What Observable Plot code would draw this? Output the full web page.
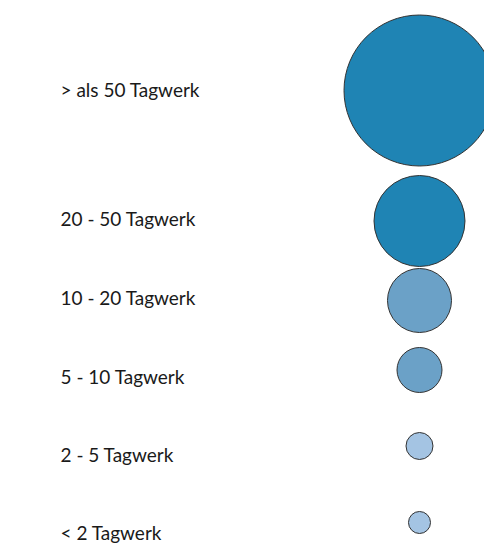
<!DOCTYPE html>
<html>
<head>
<meta charset="utf-8">
<script src="https://cdn.jsdelivr.net/npm/d3@7"></script>
<script src="https://cdn.jsdelivr.net/npm/@observablehq/plot@0.6"></script>
<style>
  html, body { margin: 0; padding: 0; background: #fff; }
  #chart { position: relative; width: 484px; height: 556px; overflow: hidden; }
  #chart svg { position: absolute; left: 0; top: 0; }
</style>
</head>
<body>
<div id="chart"></div>
<script>
// Data
const categories = ["> als 50 Tagwerk", "20 - 50 Tagwerk", "10 - 20 Tagwerk", "5 - 10 Tagwerk", "2 - 5 Tagwerk", "< 2 Tagwerk"];
const values = [5700, 2070, 1024, 506, 182, 121];
const groups = ["groß", "groß", "mittel", "mittel", "klein", "klein"];

const rows = categories.map((c, i) => ({category: c, value: values[i], group: groups[i]}));

// Layout (row positions for labels and circles)
const labelRows = [90, 219, 298, 377, 455, 533];
const circleRows = [90, 220.5, 300, 369.5, 445.5, 522];

const W = 484, H = 556;

const labels = Plot.plot({
  width: W, height: H,
  margin: 0,
  x: {type: "linear", domain: [0, W], range: [0, W], axis: null},
  y: {type: "ordinal", domain: categories, range: labelRows, axis: null},
  marks: [
    Plot.text(rows, {
      x: () => 60, y: "category", text: "category",
      textAnchor: "start", lineAnchor: "middle",
      fontSize: 19, fontFamily: "Lato", fill: "#1a1a1a"
    })
  ]
});

const dots = Plot.plot({
  width: W, height: H,
  margin: 0,
  x: {type: "linear", domain: [0, W], range: [0, W], axis: null},
  y: {type: "ordinal", domain: categories, range: circleRows, axis: null},
  r: {type: "sqrt", domain: [0, d3.max(values)], range: [0, 75.5]},
  color: {type: "ordinal", domain: ["groß", "mittel", "klein"], range: ["#1f84b4", "#6ba1c7", "#a4c4e3"]},
  marks: [
    Plot.dot(rows, {
      x: () => 419, y: "category", r: "value", fill: "group",
      stroke: "#333", strokeWidth: 1, fillOpacity: 1
    })
  ]
});

document.getElementById("chart").append(labels, dots);
</script>
</body>
</html>
